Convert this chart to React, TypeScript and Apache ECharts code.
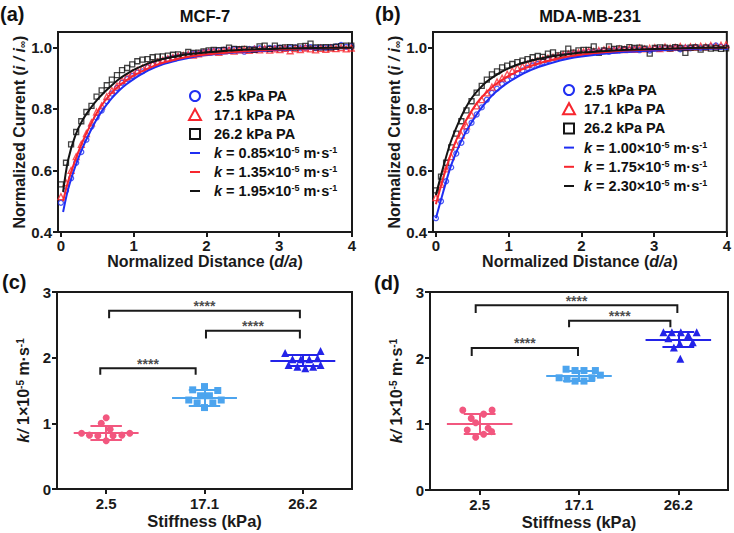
import React, { useEffect, useRef } from 'react';
import * as echarts from 'echarts';

const FONT = '"Liberation Sans", Arial, Helvetica, sans-serif';
const AX = '#1a1a1a';
const BLUE = '#1f2ef2';
const RED = '#f7262e';
const BLACK = '#141414';
const PINK = '#f2577f';
const SKY = '#4ca4ee';
const NAVY = '#2323e8';

// ---------- data: panels (a) and (b) ----------
const distance = [0.00, 0.07, 0.14, 0.21, 0.28, 0.35, 0.42, 0.49, 0.56, 0.63, 0.70, 0.77, 0.84, 0.91, 0.98, 1.05, 1.12, 1.19, 1.26, 1.33, 1.40, 1.47, 1.54, 1.61, 1.68, 1.75, 1.82, 1.89, 1.96, 2.03, 2.10, 2.17, 2.24, 2.31, 2.38, 2.45, 2.52, 2.59, 2.66, 2.73, 2.80, 2.87, 2.94, 3.01, 3.08, 3.15, 3.22, 3.29, 3.36, 3.43, 3.50, 3.57, 3.64, 3.71, 3.78, 3.85, 3.92, 3.99];
const distTicks = [0, 1, 2, 3, 4];
const currentTicks = [0.4, 0.6, 0.8, 1.0];

const mcfSoft = [0.495, 0.535, 0.575, 0.625, 0.66, 0.70, 0.743, 0.772, 0.795, 0.825, 0.85, 0.868, 0.885, 0.897, 0.907, 0.918, 0.922, 0.935, 0.945, 0.951, 0.957, 0.962, 0.966, 0.970, 0.972, 0.976, 0.979, 0.980, 0.984, 0.986, 0.988, 0.990, 0.992, 0.991, 0.994, 0.993, 0.986, 0.995, 0.996, 0.997, 0.995, 0.998, 0.997, 0.999, 0.996, 0.998, 1.000, 0.997, 0.999, 1.001, 0.998, 1.000, 0.999, 1.001, 1.003, 1.008, 1.002, 1.004];
const mcfMid = [0.515, 0.56, 0.60, 0.645, 0.685, 0.72, 0.755, 0.79, 0.81, 0.84, 0.86, 0.875, 0.893, 0.905, 0.917, 0.925, 0.933, 0.94, 0.947, 0.953, 0.958, 0.963, 0.967, 0.971, 0.974, 0.977, 0.975, 0.979, 0.983, 0.985, 0.987, 0.984, 0.989, 0.991, 0.988, 0.992, 0.993, 0.990, 0.994, 0.992, 0.996, 0.991, 0.995, 0.993, 0.997, 0.989, 0.996, 0.993, 0.998, 0.995, 0.992, 0.997, 0.994, 0.998, 0.996, 0.999, 0.995, 0.998];
const mcfStiff = [0.555, 0.625, 0.685, 0.725, 0.76, 0.79, 0.81, 0.84, 0.86, 0.877, 0.895, 0.91, 0.926, 0.933, 0.945, 0.955, 0.96, 0.962, 0.968, 0.970, 0.971, 0.973, 0.976, 0.977, 0.974, 0.985, 0.982, 0.983, 0.987, 0.99, 0.992, 0.991, 0.992, 0.999, 0.995, 0.994, 0.995, 0.993, 0.992, 1.003, 1.006, 0.995, 1.006, 0.998, 1.000, 1.001, 0.999, 1.003, 1.005, 1.012, 1.000, 1.000, 1.001, 1.000, 1.002, 1.004, 1.006, 1.006];

const mdaSoft = [0.445, 0.50, 0.565, 0.61, 0.655, 0.69, 0.728, 0.755, 0.782, 0.805, 0.83, 0.852, 0.866, 0.881, 0.894, 0.906, 0.916, 0.925, 0.933, 0.941, 0.946, 0.953, 0.959, 0.966, 0.969, 0.972, 0.975, 0.978, 0.979, 0.982, 0.985, 0.984, 0.987, 0.989, 0.986, 0.991, 0.99, 0.993, 0.992, 0.994, 0.991, 0.995, 0.990, 0.996, 0.995, 0.997, 0.996, 0.998, 0.994, 0.999, 0.997, 1.001, 0.998, 1.000, 1.003, 1.006, 1.002, 1.001];
const mdaMid = [0.512, 0.555, 0.605, 0.645, 0.685, 0.715, 0.745, 0.78, 0.81, 0.83, 0.852, 0.871, 0.888, 0.90, 0.913, 0.924, 0.933, 0.939, 0.945, 0.951, 0.956, 0.961, 0.965, 0.968, 0.972, 0.976, 0.979, 0.981, 0.983, 0.986, 0.988, 0.987, 0.99, 0.992, 0.994, 0.991, 0.995, 0.993, 0.996, 0.994, 0.998, 0.995, 0.997, 0.999, 0.996, 1.001, 0.998, 1.000, 1.003, 0.999, 1.002, 1.001, 1.004, 1.002, 1.006, 1.003, 1.007, 1.009];
const mdaStiff = [0.535, 0.58, 0.625, 0.675, 0.72, 0.76, 0.795, 0.825, 0.853, 0.875, 0.895, 0.912, 0.922, 0.935, 0.941, 0.946, 0.952, 0.957, 0.962, 0.968, 0.972, 0.969, 0.980, 0.984, 0.974, 0.98, 0.996, 0.983, 0.99, 0.992, 0.992, 1.003, 0.982, 0.99, 1.003, 0.995, 0.997, 0.994, 1.001, 0.998, 0.999, 0.996, 0.980, 0.998, 1.000, 0.999, 0.997, 1.001, 0.998, 0.982, 0.999, 1.000, 0.993, 1.000, 0.996, 0.998, 0.995, 0.997];

const fitDistA = [0.03, 0.1, 0.2, 0.3, 0.4, 0.5, 0.6, 0.7, 0.8, 0.9, 1.0, 1.2, 1.4, 1.6, 1.8, 2.0, 2.5, 3.0, 3.5, 4.0];
const fitDistB = [0.0, 0.1, 0.2, 0.3, 0.4, 0.5, 0.6, 0.7, 0.8, 0.9, 1.0, 1.2, 1.4, 1.6, 1.8, 2.0, 2.5, 3.0, 3.5, 4.0];
const mcfFitSoft = [0.465, 0.54, 0.615, 0.675, 0.725, 0.77, 0.805, 0.835, 0.86, 0.88, 0.897, 0.925, 0.945, 0.958, 0.968, 0.975, 0.985, 0.992, 0.996, 0.998];
const mcfFitMid = [0.50, 0.565, 0.635, 0.695, 0.745, 0.79, 0.825, 0.853, 0.875, 0.893, 0.908, 0.932, 0.95, 0.962, 0.971, 0.977, 0.987, 0.993, 0.997, 0.999];
const mcfFitStiff = [0.53, 0.635, 0.715, 0.765, 0.80, 0.83, 0.855, 0.877, 0.897, 0.913, 0.927, 0.948, 0.962, 0.972, 0.979, 0.984, 0.992, 0.996, 0.998, 0.999];
const mdaFitSoft = [0.445, 0.53, 0.61, 0.67, 0.72, 0.76, 0.795, 0.825, 0.85, 0.87, 0.887, 0.915, 0.935, 0.95, 0.962, 0.97, 0.983, 0.99, 0.995, 0.997];
const mdaFitMid = [0.49, 0.575, 0.65, 0.71, 0.757, 0.797, 0.83, 0.855, 0.876, 0.893, 0.907, 0.93, 0.947, 0.96, 0.97, 0.977, 0.988, 0.994, 0.997, 0.999];
const mdaFitStiff = [0.52, 0.61, 0.69, 0.75, 0.80, 0.838, 0.866, 0.889, 0.906, 0.92, 0.932, 0.95, 0.962, 0.971, 0.978, 0.983, 0.991, 0.995, 0.998, 0.999];

const groupLabels = ['2.5 kPa PA', '17.1 kPa PA', '26.2 kPa PA'];
const mcfKLabels = ['0.85', '1.35', '1.95'];
const mdaKLabels = ['1.00', '1.75', '2.30'];

// ---------- data: panels (c) and (d) ----------
const stiffness = ['2.5', '17.1', '26.2'];
const kTicks = [0, 1, 2, 3];

const mcfK = [
  [1.086, 1.0, 0.91, 0.85, 0.82, 0.81, 0.81, 0.82, 0.85, 0.735],
  [1.56, 1.51, 1.50, 1.42, 1.42, 1.355, 1.31, 1.31, 1.355, 1.24],
  [2.07, 2.10, 1.975, 1.975, 1.975, 1.99, 1.89, 1.86, 1.84, 1.86, 1.89],
];
const mcfJitter = [
  [0, -0.05, 0.04, -0.25, -0.17, -0.085, 0.07, 0.16, 0.24, 0],
  [0, -0.12, 0.135, -0.04, 0.05, -0.16, -0.075, 0.085, 0.17, 0],
  [-0.18, 0.18, -0.105, -0.02, 0.065, 0.15, -0.145, -0.055, 0.025, 0.105, 0.18],
];
const mcfMean = [0.86, 1.39, 1.96];
const mcfSD = [0.11, 0.115, 0.08];
// [from, to, bar height, leg end]
const mcfBrackets = [
  [-0.06, 0.91, 1.84, 1.74],
  [1.015, 1.97, 2.41, 2.29],
  [0.03, 1.97, 2.715, 2.6],
];

const mdaK = [
  [1.21, 1.21, 1.15, 1.085, 1.02, 0.91, 0.935, 0.885, 0.845, 0.80],
  [1.83, 1.81, 1.81, 1.81, 1.70, 1.68, 1.65, 1.65, 1.70, 1.74],
  [2.39, 2.39, 2.39, 2.39, 2.30, 2.35, 2.22, 2.24, 2.16, 1.99],
];
const mdaJitter = [
  [-0.17, 0.125, 0.04, -0.085, -0.04, -0.125, 0.085, 0.12, 0.04, -0.04],
  [-0.13, -0.04, 0.05, 0.165, -0.2, -0.12, -0.04, 0.05, 0.13, 0.215],
  [-0.15, -0.065, 0.025, 0.185, -0.1, 0.1, 0.015, 0.145, -0.045, 0.02],
];
const mdaMean = [1.0, 1.727, 2.28];
const mdaSD = [0.15, 0.075, 0.115];
const mdaBrackets = [
  [-0.08, 0.99, 2.15, 2.03],
  [0.9, 1.92, 2.565, 2.465],
  [-0.04, 1.99, 2.80, 2.68],
];

// ---------- option building ----------
const nameRich = {
  n: { fontSize: 16, fontWeight: 'bold', fontFamily: FONT, color: AX },
  i: { fontSize: 16, fontWeight: 'bold', fontStyle: 'italic', fontFamily: FONT, color: AX },
  sub: { fontSize: 10, fontWeight: 'bold', fontFamily: FONT, color: AX, verticalAlign: 'bottom' },
  sup: { fontSize: 10, fontWeight: 'bold', fontFamily: FONT, color: AX, verticalAlign: 'top' },
};

function axisBase(ticks: number[] | null, margin: number, formatter?: any) {
  const tick: any = { show: true, inside: false, length: 5, lineStyle: { color: AX, width: 2 } };
  const label: any = { color: AX, fontSize: 15, fontWeight: 'bold', fontFamily: FONT, margin };
  if (ticks) {
    tick.customValues = ticks;
    label.customValues = ticks;
  }
  if (formatter) label.formatter = formatter;
  return {
    axisLine: { show: true, onZero: false, lineStyle: { color: AX, width: 2 } },
    axisTick: tick,
    axisLabel: label,
    splitLine: { show: false },
  };
}

function curveXAxis(gi: number) {
  return {
    gridIndex: gi, type: 'value', min: -0.04, max: 4,
    ...axisBase(distTicks, 6),
    name: '{n|Normalized Distance (}{i|d/a}{n|)}',
    nameLocation: 'middle', nameGap: 20,
    nameTextStyle: { rich: nameRich },
  };
}
function curveYAxis(gi: number) {
  return {
    gridIndex: gi, type: 'value', min: 0.4, max: 1.05,
    ...axisBase(currentTicks, 6, (v: number) => v.toFixed(1)),
    name: '{n|Normalized Current (}{i|i / i}{sub|∞}{n|)}',
    nameLocation: 'middle', nameGap: 28, nameRotate: 90,
    nameTextStyle: { rich: nameRich },
  };
}
function stiffXAxis(gi: number) {
  return {
    gridIndex: gi, type: 'value', min: -0.5, max: 2.5,
    ...axisBase([0, 1, 2], 7, (v: number) => stiffness[Math.round(v)]),
    name: 'Stiffness (kPa)',
    nameLocation: 'middle', nameGap: 23,
    nameTextStyle: { fontSize: 16.5, fontWeight: 'bold', fontFamily: FONT, color: AX },
  };
}
function kYAxis(gi: number) {
  return {
    gridIndex: gi, type: 'value', min: 0, max: 3,
    ...axisBase(kTicks, 6),
    name: '{i|k/}{n| 1×10}{sup|-5}{n| m·s}{sup|-1}',
    nameLocation: 'middle', nameGap: 26, nameRotate: 90,
    nameTextStyle: { rich: nameRich },
  };
}

function curveSeries(gi: number, pts: number[][], fitX: number[], fits: number[][]) {
  const colors = [BLUE, RED, BLACK];
  const syms = ['circle', 'triangle', 'rect'];
  const out: any[] = [];
  pts.forEach((ys, s) => {
    out.push({
      type: 'scatter', name: groupLabels[s], xAxisIndex: gi, yAxisIndex: gi,
      symbol: syms[s], symbolSize: s === 1 ? 6 : 5,
      data: distance.map((d, i) => [d, ys[i]]),
      itemStyle: { color: 'rgba(0,0,0,0)', borderColor: colors[s], borderWidth: 1.3 },
      silent: true, z: 2 + s,
    });
  });
  fits.forEach((ys, s) => {
    out.push({
      type: 'line', xAxisIndex: gi, yAxisIndex: gi, smooth: 0.35,
      showSymbol: false, symbol: 'none',
      data: fitX.map((x, i) => [x, ys[i]]),
      lineStyle: { color: colors[s], width: 2 }, silent: true, z: 6 + s,
    });
  });
  return out;
}

function dotSeries(gi: number, vals: number[][], jit: number[][], means: number[], sds: number[], brackets: number[][]) {
  const colors = [PINK, SKY, NAVY];
  const syms = ['circle', 'rect', 'triangle'];
  const sizes = [7, 7, 8];
  const out: any[] = [];
  vals.forEach((ys, j) => {
    const m = means[j];
    const sd = sds[j];
    out.push({
      type: 'lines', coordinateSystem: 'cartesian2d', xAxisIndex: gi, yAxisIndex: gi,
      data: [
        { coords: [[j - 0.33, m], [j + 0.33, m]] },
        { coords: [[j, m - sd], [j, m + sd]] },
        { coords: [[j - 0.16, m + sd], [j + 0.16, m + sd]] },
        { coords: [[j - 0.16, m - sd], [j + 0.16, m - sd]] },
      ],
      lineStyle: { color: colors[j], width: 2, opacity: 1, curveness: 0 },
      silent: true, z: 2,
    });
    out.push({
      type: 'scatter', xAxisIndex: gi, yAxisIndex: gi,
      symbol: syms[j], symbolSize: sizes[j],
      data: ys.map((v, i) => [j + jit[j][i], v]),
      itemStyle: { color: colors[j], opacity: 1 },
      silent: true, z: 3,
    });
  });
  out.push({
    type: 'lines', coordinateSystem: 'cartesian2d', xAxisIndex: gi, yAxisIndex: gi,
    polyline: true,
    data: brackets.map((b) => ({ coords: [[b[0], b[3]], [b[0], b[2]], [b[1], b[2]], [b[1], b[3]]] })),
    lineStyle: { color: AX, width: 2, opacity: 1 },
    silent: true, z: 4,
  });
  out.push({
    type: 'scatter', xAxisIndex: gi, yAxisIndex: gi, symbolSize: 1,
    data: brackets.map((b) => [(b[0] + b[1]) / 2, b[2] + 0.07]),
    itemStyle: { color: 'rgba(0,0,0,0)' },
    label: { show: true, position: 'inside', formatter: '****', color: AX, fontSize: 14, fontWeight: 'bold', fontFamily: FONT },
    silent: true, z: 5,
  });
  return out;
}

function legendGraphics(symX: number, textX: number, y0: number, step: number, kLabels: string[]) {
  const g: any[] = [];
  const ys = [0, 1, 2, 3, 4, 5].map((i) => y0 + i * step);
  g.push({ type: 'circle', shape: { cx: symX, cy: ys[0], r: 5 }, style: { fill: 'none', stroke: BLUE, lineWidth: 2 } });
  g.push({ type: 'polygon', shape: { points: [[symX - 6, ys[1] + 5], [symX + 6, ys[1] + 5], [symX, ys[1] - 6]] }, style: { fill: 'none', stroke: RED, lineWidth: 2 } });
  g.push({ type: 'rect', shape: { x: symX - 5, y: ys[2] - 5, width: 10, height: 10 }, style: { fill: 'none', stroke: BLACK, lineWidth: 2 } });
  [BLUE, RED, BLACK].forEach((c, i) => {
    g.push({ type: 'line', shape: { x1: symX - 5, y1: ys[3 + i], x2: symX + 5, y2: ys[3 + i] }, style: { stroke: c, lineWidth: 2 } });
  });
  const base = { fontSize: 14.5, fontWeight: 'bold', fontFamily: FONT, fill: '#111', verticalAlign: 'middle', align: 'left' };
  groupLabels.forEach((t, i) => {
    g.push({ type: 'text', x: textX, y: ys[i], style: { ...base, text: t } });
  });
  kLabels.forEach((k, i) => {
    g.push({
      type: 'text', x: textX, y: ys[3 + i],
      style: {
        ...base,
        text: `{k|k} = ${k}×10{s|-5} m·s{s|-1}`,
        rich: {
          k: { fontSize: 14.5, fontWeight: 'bold', fontStyle: 'italic', fontFamily: FONT, fill: '#111' },
          s: { fontSize: 9, fontWeight: 'bold', fontFamily: FONT, fill: '#111', verticalAlign: 'top' },
        },
      },
    });
  });
  return g;
}

function textEl(x: number, y: number, text: string, size: number, align = 'left') {
  return { type: 'text', x, y, style: { text, fontSize: size, fontWeight: 'bold', fontFamily: FONT, fill: '#111', align, verticalAlign: 'middle' } };
}

function buildOption() {
  const grids = [
    { left: 58, top: 32, width: 294, height: 200 },
    { left: 433, top: 32, width: 296, height: 200 },
    { left: 57, top: 292, width: 295, height: 197 },
    { left: 430, top: 292, width: 298, height: 198 },
  ].map((g) => ({ ...g, show: true, borderColor: AX, borderWidth: 2, backgroundColor: 'transparent' }));

  return {
    animation: false,
    backgroundColor: '#fff',
    grid: grids,
    xAxis: [curveXAxis(0), curveXAxis(1), stiffXAxis(2), stiffXAxis(3)],
    yAxis: [curveYAxis(0), curveYAxis(1), kYAxis(2), kYAxis(3)],
    series: [
      ...curveSeries(0, [mcfSoft, mcfMid, mcfStiff], fitDistA, [mcfFitSoft, mcfFitMid, mcfFitStiff]),
      ...curveSeries(1, [mdaSoft, mdaMid, mdaStiff], fitDistB, [mdaFitSoft, mdaFitMid, mdaFitStiff]),
      ...dotSeries(2, mcfK, mcfJitter, mcfMean, mcfSD, mcfBrackets),
      ...dotSeries(3, mdaK, mdaJitter, mdaMean, mdaSD, mdaBrackets),
    ],
    graphic: [
      textEl(0, 14, '(a)', 20),
      textEl(375, 14, '(b)', 20),
      textEl(2, 282, '(c)', 20),
      textEl(374, 283, '(d)', 20),
      textEl(205, 16, 'MCF-7', 16.5, 'center'),
      textEl(590, 16, 'MDA-MB-231', 16.5, 'center'),
      ...legendGraphics(195, 214, 96, 19, mcfKLabels),
      ...legendGraphics(569, 584, 90, 19.2, mdaKLabels),
    ],
  };
}

export default function App() {
  const ref = useRef<HTMLDivElement>(null);
  useEffect(() => {
    const chart = echarts.init(ref.current as HTMLDivElement, null, { renderer: 'svg' });
    chart.setOption(buildOption() as any);
    return () => chart.dispose();
  }, []);
  return (
    <div
      ref={ref}
      style={{ position: 'absolute', left: 0, top: 0, width: 734, height: 533, background: '#fff' }}
    />
  );
}
